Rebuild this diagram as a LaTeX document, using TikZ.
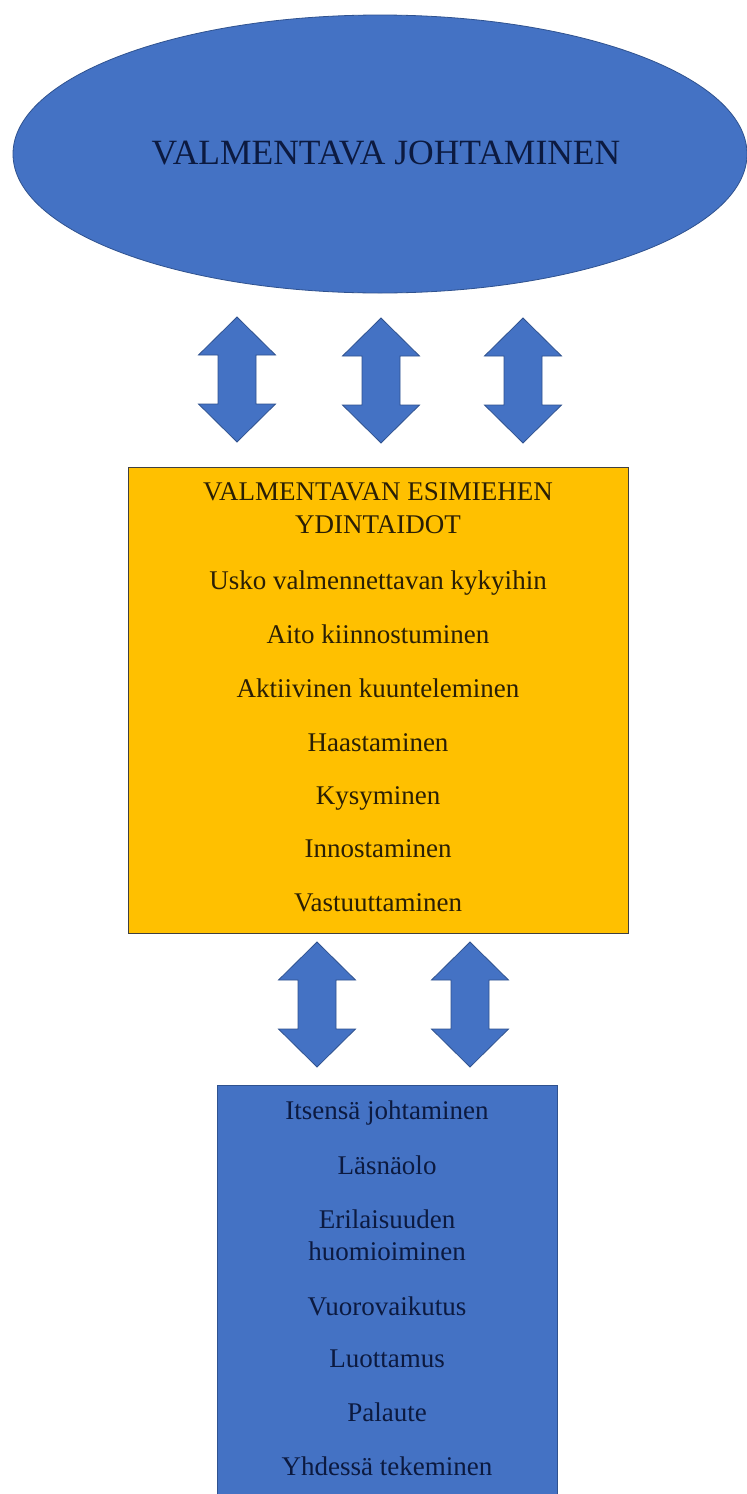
\documentclass[tikz,border=0pt]{standalone}
\usepackage{fontspec}
\setmainfont{Liberation Serif}
\usetikzlibrary{shapes.geometric,calc}
\definecolor{wordblue}{HTML}{4472C4}
\definecolor{wordblueedge}{HTML}{2F528F}
\definecolor{wordgold}{HTML}{FFC000}
\definecolor{navytext}{HTML}{0C1A40}
\definecolor{browntext}{HTML}{2A1F05}
\tikzset{
  bluefill/.style={fill=wordblue, draw=wordblueedge, line width=0.8pt},
  goldbox/.style={rectangle, fill=wordgold, draw=black!75, line width=1pt, inner sep=0pt},
  bluebox/.style={rectangle, bluefill, inner sep=0pt},
  txt/.style={font=\fontsize{27}{32}\selectfont, text height=0.7em, text depth=0pt, inner sep=0pt, align=center},
  ontxtblue/.style={txt, text=navytext},
  ontxtgold/.style={txt, text=browntext},
  blockarrow/.style={bluefill, line join=miter}
}
\newcommand{\dblarrow}[4]{% name, cx, top, bottom
  \coordinate (#1-t) at (#2,#3);
  \coordinate (#1-b) at (#2,#4);
  \draw[blockarrow] (#1-t) -- ++(38.5,38) -- ++(-19.5,0) -- ($(#1-b)+(19,-38)$) -- ++(19.5,0) -- (#1-b)
     -- ++(-38.5,-38) -- ++(19.5,0) -- ($(#1-t)+(-19,38)$) -- ++(-19.5,0) -- cycle;
}
\begin{document}
\begin{tikzpicture}[x=1pt,y=-1pt]
\useasboundingbox (0,0) rectangle (747,1494);
\clip (0,0) rectangle (747,1494);
\fill[white] (0,0) rectangle (747,1494);

% top ellipse
\node[ellipse, bluefill, minimum width=734, minimum height=278, inner sep=0pt] (lead) at (380,154) {};
\node[txt, text=navytext, font=\fontsize{35.5}{40}\selectfont] (leadtxt) at (386,161) {VALMENTAVA JOHTAMINEN};

% upper arrows
\dblarrow{a1}{237}{317}{442}
\dblarrow{a2}{381}{318}{443}
\dblarrow{a3}{523}{318}{443}

% gold box
\node[goldbox, minimum width=500, minimum height=466] (core) at (378,700) {};
\node[ontxtgold] (c0) at (378,497) {VALMENTAVAN ESIMIEHEN};
\node[ontxtgold] (c1) at (378,530) {YDINTAIDOT};
\node[ontxtgold] (c2) at (378,586) {Usko valmennettavan kykyihin};
\node[ontxtgold] (c3) at (378,640) {Aito kiinnostuminen};
\node[ontxtgold] (c4) at (378,694) {Aktiivinen kuunteleminen};
\node[ontxtgold] (c5) at (378,748) {Haastaminen};
\node[ontxtgold] (c6) at (378,801) {Kysyminen};
\node[ontxtgold] (c7) at (378,854) {Innostaminen};
\node[ontxtgold] (c8) at (378,908) {Vastuuttaminen};

% lower arrows
\dblarrow{b1}{317}{942}{1067}
\dblarrow{b2}{470}{942}{1067}

% blue box
\node[bluebox, minimum width=340, minimum height=430] (base) at (387,1300) {};
\node[ontxtblue] (d1) at (387,1116) {Itsensä johtaminen};
\node[ontxtblue] (d2) at (387,1171) {Läsnäolo};
\node[ontxtblue] (d3) at (387,1225) {Erilaisuuden};
\node[ontxtblue] (d4) at (387,1257) {huomioiminen};
\node[ontxtblue] (d5) at (387,1312) {Vuorovaikutus};
\node[ontxtblue] (d6) at (387,1364) {Luottamus};
\node[ontxtblue] (d7) at (387,1418) {Palaute};
\node[ontxtblue] (d8) at (387,1472) {Yhdessä tekeminen};
\end{tikzpicture}
\end{document}
